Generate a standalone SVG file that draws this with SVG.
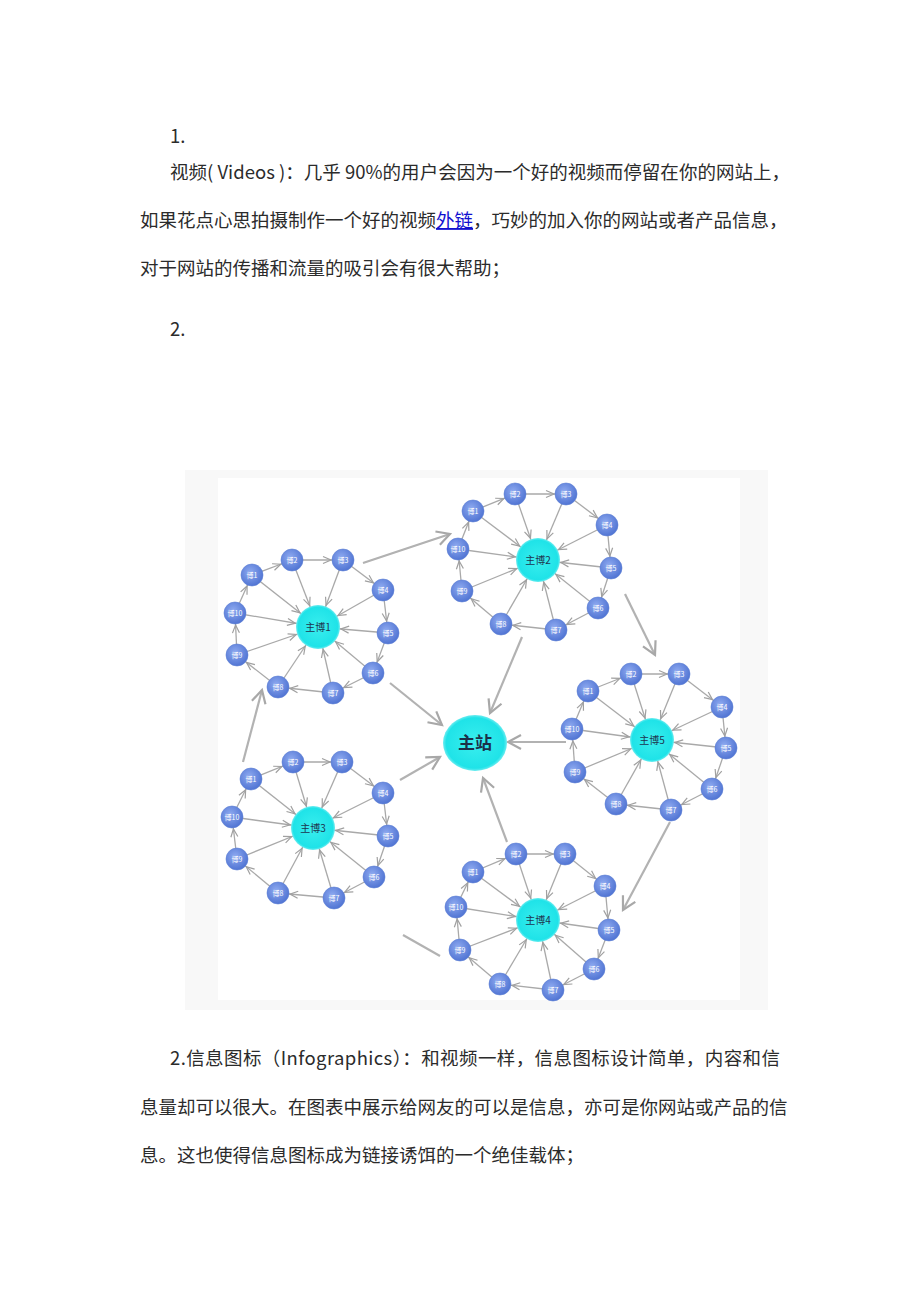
<svg xmlns="http://www.w3.org/2000/svg" width="920" height="1302" viewBox="0 0 920 1302">
<style>
.para{font-family:"Noto Sans CJK SC","Liberation Sans",sans-serif;font-size:18.5px;fill:#2b2b2b}
.link{fill:#1010d0;text-decoration:underline}
.ln{stroke:#a9a9a9;stroke-width:1.3;fill:none}
.sp{marker-end:url(#mSpoke)}
.rg{marker-end:url(#mRing)}
.big{stroke:#b2b2b2;stroke-width:2.2;fill:none;marker-end:url(#mBig)}
.sat circle{fill:url(#gSat);stroke:#5a7dd4;stroke-width:0.6}
.sat text{font-family:"Noto Sans CJK SC",sans-serif;font-size:7px;fill:#ffffff;text-anchor:middle}
.hub circle{fill:url(#gHub)}
.hub text{font-family:"Noto Sans CJK SC",sans-serif;font-size:10px;fill:#1d3550;text-anchor:middle}
</style>
<defs>
<radialGradient id="gSat" cx="0.42" cy="0.38" r="0.65">
<stop offset="0" stop-color="#8eaaf0"/>
<stop offset="1" stop-color="#4e72d2"/>
</radialGradient>
<radialGradient id="gHub" cx="0.5" cy="0.5" r="0.5">
<stop offset="0" stop-color="#3aeeee"/>
<stop offset="0.9" stop-color="#1fe3e8"/>
<stop offset="1" stop-color="#6cecf0"/>
</radialGradient>
<marker id="mSpoke" markerUnits="userSpaceOnUse" markerWidth="40" markerHeight="10" refX="31" refY="4" orient="auto" overflow="visible">
<path d="M0,0.5 L8,4 L0,7.5" fill="none" stroke="#a0a0a0" stroke-width="1.2"/>
</marker>
<marker id="mRing" markerUnits="userSpaceOnUse" markerWidth="30" markerHeight="10" refX="20" refY="4" orient="auto" overflow="visible">
<path d="M0,0.5 L8,4 L0,7.5" fill="none" stroke="#a0a0a0" stroke-width="1.2"/>
</marker>
<marker id="mBig" markerUnits="userSpaceOnUse" markerWidth="16" markerHeight="14" refX="13" refY="7" orient="auto" overflow="visible">
<path d="M0,0 L13,7 L0,14" fill="none" stroke="#a8a8a8" stroke-width="2.2"/>
</marker>
</defs>

<rect x="0" y="0" width="920" height="1302" fill="#ffffff"/>

<g id="text-top">
<text class="para" x="170" y="143">1.</text>
<text class="para" x="170" y="179" textLength="620" lengthAdjust="spacing">视频( Videos )：几乎 90%的用户会因为一个好的视频而停留在你的网站上，</text>
<text class="para" x="140" y="227">如果花点心思拍摄制作一个好的视频<tspan class="link">外链</tspan>，巧妙的加入你的网站或者产品信息，</text>
<text class="para" x="140" y="275">对于网站的传播和流量的吸引会有很大帮助；</text>
<text class="para" x="170" y="336">2.</text>
</g>

<g id="figure-bg">
<rect x="185" y="470" width="583" height="540" fill="#f8f8f8"/>
<rect x="218" y="478" width="522" height="522" fill="#ffffff"/>
</g>

<g id="connectors">
<line class="ln sp" x1="252" y1="575" x2="318" y2="627"/>
<line class="ln sp" x1="292" y1="560" x2="318" y2="627"/>
<line class="ln sp" x1="343" y1="560" x2="318" y2="627"/>
<line class="ln sp" x1="383" y1="590" x2="318" y2="627"/>
<line class="ln sp" x1="388" y1="633" x2="318" y2="627"/>
<line class="ln sp" x1="373" y1="673" x2="318" y2="627"/>
<line class="ln sp" x1="333" y1="693" x2="318" y2="627"/>
<line class="ln sp" x1="278" y1="687" x2="318" y2="627"/>
<line class="ln sp" x1="237" y1="655" x2="318" y2="627"/>
<line class="ln sp" x1="235" y1="613" x2="318" y2="627"/>
<line class="ln rg" x1="252" y1="575" x2="292" y2="560"/>
<line class="ln rg" x1="292" y1="560" x2="343" y2="560"/>
<line class="ln rg" x1="343" y1="560" x2="383" y2="590"/>
<line class="ln rg" x1="383" y1="590" x2="388" y2="633"/>
<line class="ln rg" x1="388" y1="633" x2="373" y2="673"/>
<line class="ln rg" x1="373" y1="673" x2="333" y2="693"/>
<line class="ln rg" x1="333" y1="693" x2="278" y2="687"/>
<line class="ln rg" x1="278" y1="687" x2="237" y2="655"/>
<line class="ln rg" x1="237" y1="655" x2="235" y2="613"/>
<line class="ln rg" x1="235" y1="613" x2="252" y2="575"/>

<line class="ln sp" x1="473" y1="511" x2="538" y2="560"/>
<line class="ln sp" x1="515" y1="494" x2="538" y2="560"/>
<line class="ln sp" x1="566" y1="494" x2="538" y2="560"/>
<line class="ln sp" x1="607" y1="525" x2="538" y2="560"/>
<line class="ln sp" x1="611" y1="568" x2="538" y2="560"/>
<line class="ln sp" x1="598" y1="608" x2="538" y2="560"/>
<line class="ln sp" x1="556" y1="630" x2="538" y2="560"/>
<line class="ln sp" x1="501" y1="624" x2="538" y2="560"/>
<line class="ln sp" x1="462" y1="591" x2="538" y2="560"/>
<line class="ln sp" x1="458" y1="549" x2="538" y2="560"/>
<line class="ln rg" x1="473" y1="511" x2="515" y2="494"/>
<line class="ln rg" x1="515" y1="494" x2="566" y2="494"/>
<line class="ln rg" x1="566" y1="494" x2="607" y2="525"/>
<line class="ln rg" x1="607" y1="525" x2="611" y2="568"/>
<line class="ln rg" x1="611" y1="568" x2="598" y2="608"/>
<line class="ln rg" x1="598" y1="608" x2="556" y2="630"/>
<line class="ln rg" x1="556" y1="630" x2="501" y2="624"/>
<line class="ln rg" x1="501" y1="624" x2="462" y2="591"/>
<line class="ln rg" x1="462" y1="591" x2="458" y2="549"/>
<line class="ln rg" x1="458" y1="549" x2="473" y2="511"/>

<line class="ln sp" x1="251" y1="779" x2="313" y2="828"/>
<line class="ln sp" x1="293" y1="762" x2="313" y2="828"/>
<line class="ln sp" x1="342" y1="762" x2="313" y2="828"/>
<line class="ln sp" x1="383" y1="793" x2="313" y2="828"/>
<line class="ln sp" x1="388" y1="836" x2="313" y2="828"/>
<line class="ln sp" x1="374" y1="877" x2="313" y2="828"/>
<line class="ln sp" x1="334" y1="898" x2="313" y2="828"/>
<line class="ln sp" x1="278" y1="893" x2="313" y2="828"/>
<line class="ln sp" x1="237" y1="859" x2="313" y2="828"/>
<line class="ln sp" x1="232" y1="817" x2="313" y2="828"/>
<line class="ln rg" x1="251" y1="779" x2="293" y2="762"/>
<line class="ln rg" x1="293" y1="762" x2="342" y2="762"/>
<line class="ln rg" x1="342" y1="762" x2="383" y2="793"/>
<line class="ln rg" x1="383" y1="793" x2="388" y2="836"/>
<line class="ln rg" x1="388" y1="836" x2="374" y2="877"/>
<line class="ln rg" x1="374" y1="877" x2="334" y2="898"/>
<line class="ln rg" x1="334" y1="898" x2="278" y2="893"/>
<line class="ln rg" x1="278" y1="893" x2="237" y2="859"/>
<line class="ln rg" x1="237" y1="859" x2="232" y2="817"/>
<line class="ln rg" x1="232" y1="817" x2="251" y2="779"/>

<line class="ln sp" x1="473" y1="872" x2="538" y2="920"/>
<line class="ln sp" x1="516" y1="854" x2="538" y2="920"/>
<line class="ln sp" x1="565" y1="854" x2="538" y2="920"/>
<line class="ln sp" x1="605" y1="886" x2="538" y2="920"/>
<line class="ln sp" x1="609" y1="930" x2="538" y2="920"/>
<line class="ln sp" x1="594" y1="969" x2="538" y2="920"/>
<line class="ln sp" x1="553" y1="990" x2="538" y2="920"/>
<line class="ln sp" x1="500" y1="984" x2="538" y2="920"/>
<line class="ln sp" x1="460" y1="950" x2="538" y2="920"/>
<line class="ln sp" x1="456" y1="907" x2="538" y2="920"/>
<line class="ln rg" x1="473" y1="872" x2="516" y2="854"/>
<line class="ln rg" x1="516" y1="854" x2="565" y2="854"/>
<line class="ln rg" x1="565" y1="854" x2="605" y2="886"/>
<line class="ln rg" x1="605" y1="886" x2="609" y2="930"/>
<line class="ln rg" x1="609" y1="930" x2="594" y2="969"/>
<line class="ln rg" x1="594" y1="969" x2="553" y2="990"/>
<line class="ln rg" x1="553" y1="990" x2="500" y2="984"/>
<line class="ln rg" x1="500" y1="984" x2="460" y2="950"/>
<line class="ln rg" x1="460" y1="950" x2="456" y2="907"/>
<line class="ln rg" x1="456" y1="907" x2="473" y2="872"/>

<line class="ln sp" x1="588" y1="691" x2="652" y2="740"/>
<line class="ln sp" x1="631" y1="674" x2="652" y2="740"/>
<line class="ln sp" x1="679" y1="674" x2="652" y2="740"/>
<line class="ln sp" x1="722" y1="707" x2="652" y2="740"/>
<line class="ln sp" x1="726" y1="748" x2="652" y2="740"/>
<line class="ln sp" x1="712" y1="789" x2="652" y2="740"/>
<line class="ln sp" x1="671" y1="810" x2="652" y2="740"/>
<line class="ln sp" x1="616" y1="804" x2="652" y2="740"/>
<line class="ln sp" x1="575" y1="772" x2="652" y2="740"/>
<line class="ln sp" x1="572" y1="729" x2="652" y2="740"/>
<line class="ln rg" x1="588" y1="691" x2="631" y2="674"/>
<line class="ln rg" x1="631" y1="674" x2="679" y2="674"/>
<line class="ln rg" x1="679" y1="674" x2="722" y2="707"/>
<line class="ln rg" x1="722" y1="707" x2="726" y2="748"/>
<line class="ln rg" x1="726" y1="748" x2="712" y2="789"/>
<line class="ln rg" x1="712" y1="789" x2="671" y2="810"/>
<line class="ln rg" x1="671" y1="810" x2="616" y2="804"/>
<line class="ln rg" x1="616" y1="804" x2="575" y2="772"/>
<line class="ln rg" x1="575" y1="772" x2="572" y2="729"/>
<line class="ln rg" x1="572" y1="729" x2="588" y2="691"/>

<line class="big" x1="363" y1="563" x2="450" y2="534"/>
<line class="big" x1="522" y1="637" x2="490" y2="713"/>
<line class="big" x1="625" y1="594" x2="655" y2="655"/>
<line class="big" x1="566" y1="742" x2="508" y2="742"/>
<line class="big" x1="670" y1="822" x2="623" y2="910"/>
<line class="big" x1="507" y1="842" x2="483" y2="778"/>
<line x1="403" y1="935" x2="440" y2="956" stroke="#b2b2b2" stroke-width="2.2"/>
<line class="big" x1="243" y1="762" x2="262" y2="690"/>
<line class="big" x1="390" y1="683" x2="442" y2="725"/>
<line class="big" x1="400" y1="780" x2="440" y2="757"/>
</g>

<g id="main-site" class="hub">
<ellipse cx="475" cy="743" rx="32" ry="28" fill="url(#gHub)"/>
<text x="475" y="749" style="font-size:17px;font-weight:bold;fill:#1b3048">主站</text>
</g>

<g id="hub1" class="hub"><circle cx="318" cy="627" r="22"/><text x="318" y="631">主博1</text></g>
<g id="hub2" class="hub"><circle cx="538" cy="560" r="22"/><text x="538" y="564">主博2</text></g>
<g id="hub3" class="hub"><circle cx="313" cy="828" r="22"/><text x="313" y="832">主博3</text></g>
<g id="hub4" class="hub"><circle cx="538" cy="920" r="22"/><text x="538" y="924">主博4</text></g>
<g id="hub5" class="hub"><circle cx="652" cy="740" r="22"/><text x="652" y="744">主博5</text></g>

<g id="c1-s1" class="sat"><circle cx="252" cy="575" r="11"/><text x="252" y="577.5">博1</text></g>
<g id="c1-s2" class="sat"><circle cx="292" cy="560" r="11"/><text x="292" y="562.5">博2</text></g>
<g id="c1-s3" class="sat"><circle cx="343" cy="560" r="11"/><text x="343" y="562.5">博3</text></g>
<g id="c1-s4" class="sat"><circle cx="383" cy="590" r="11"/><text x="383" y="592.5">博4</text></g>
<g id="c1-s5" class="sat"><circle cx="388" cy="633" r="11"/><text x="388" y="635.5">博5</text></g>
<g id="c1-s6" class="sat"><circle cx="373" cy="673" r="11"/><text x="373" y="675.5">博6</text></g>
<g id="c1-s7" class="sat"><circle cx="333" cy="693" r="11"/><text x="333" y="695.5">博7</text></g>
<g id="c1-s8" class="sat"><circle cx="278" cy="687" r="11"/><text x="278" y="689.5">博8</text></g>
<g id="c1-s9" class="sat"><circle cx="237" cy="655" r="11"/><text x="237" y="657.5">博9</text></g>
<g id="c1-s10" class="sat"><circle cx="235" cy="613" r="11"/><text x="235" y="615.5">博10</text></g>

<g id="c2-s1" class="sat"><circle cx="473" cy="511" r="11"/><text x="473" y="513.5">博1</text></g>
<g id="c2-s2" class="sat"><circle cx="515" cy="494" r="11"/><text x="515" y="496.5">博2</text></g>
<g id="c2-s3" class="sat"><circle cx="566" cy="494" r="11"/><text x="566" y="496.5">博3</text></g>
<g id="c2-s4" class="sat"><circle cx="607" cy="525" r="11"/><text x="607" y="527.5">博4</text></g>
<g id="c2-s5" class="sat"><circle cx="611" cy="568" r="11"/><text x="611" y="570.5">博5</text></g>
<g id="c2-s6" class="sat"><circle cx="598" cy="608" r="11"/><text x="598" y="610.5">博6</text></g>
<g id="c2-s7" class="sat"><circle cx="556" cy="630" r="11"/><text x="556" y="632.5">博7</text></g>
<g id="c2-s8" class="sat"><circle cx="501" cy="624" r="11"/><text x="501" y="626.5">博8</text></g>
<g id="c2-s9" class="sat"><circle cx="462" cy="591" r="11"/><text x="462" y="593.5">博9</text></g>
<g id="c2-s10" class="sat"><circle cx="458" cy="549" r="11"/><text x="458" y="551.5">博10</text></g>

<g id="c3-s1" class="sat"><circle cx="251" cy="779" r="11"/><text x="251" y="781.5">博1</text></g>
<g id="c3-s2" class="sat"><circle cx="293" cy="762" r="11"/><text x="293" y="764.5">博2</text></g>
<g id="c3-s3" class="sat"><circle cx="342" cy="762" r="11"/><text x="342" y="764.5">博3</text></g>
<g id="c3-s4" class="sat"><circle cx="383" cy="793" r="11"/><text x="383" y="795.5">博4</text></g>
<g id="c3-s5" class="sat"><circle cx="388" cy="836" r="11"/><text x="388" y="838.5">博5</text></g>
<g id="c3-s6" class="sat"><circle cx="374" cy="877" r="11"/><text x="374" y="879.5">博6</text></g>
<g id="c3-s7" class="sat"><circle cx="334" cy="898" r="11"/><text x="334" y="900.5">博7</text></g>
<g id="c3-s8" class="sat"><circle cx="278" cy="893" r="11"/><text x="278" y="895.5">博8</text></g>
<g id="c3-s9" class="sat"><circle cx="237" cy="859" r="11"/><text x="237" y="861.5">博9</text></g>
<g id="c3-s10" class="sat"><circle cx="232" cy="817" r="11"/><text x="232" y="819.5">博10</text></g>

<g id="c4-s1" class="sat"><circle cx="473" cy="872" r="11"/><text x="473" y="874.5">博1</text></g>
<g id="c4-s2" class="sat"><circle cx="516" cy="854" r="11"/><text x="516" y="856.5">博2</text></g>
<g id="c4-s3" class="sat"><circle cx="565" cy="854" r="11"/><text x="565" y="856.5">博3</text></g>
<g id="c4-s4" class="sat"><circle cx="605" cy="886" r="11"/><text x="605" y="888.5">博4</text></g>
<g id="c4-s5" class="sat"><circle cx="609" cy="930" r="11"/><text x="609" y="932.5">博5</text></g>
<g id="c4-s6" class="sat"><circle cx="594" cy="969" r="11"/><text x="594" y="971.5">博6</text></g>
<g id="c4-s7" class="sat"><circle cx="553" cy="990" r="11"/><text x="553" y="992.5">博7</text></g>
<g id="c4-s8" class="sat"><circle cx="500" cy="984" r="11"/><text x="500" y="986.5">博8</text></g>
<g id="c4-s9" class="sat"><circle cx="460" cy="950" r="11"/><text x="460" y="952.5">博9</text></g>
<g id="c4-s10" class="sat"><circle cx="456" cy="907" r="11"/><text x="456" y="909.5">博10</text></g>

<g id="c5-s1" class="sat"><circle cx="588" cy="691" r="11"/><text x="588" y="693.5">博1</text></g>
<g id="c5-s2" class="sat"><circle cx="631" cy="674" r="11"/><text x="631" y="676.5">博2</text></g>
<g id="c5-s3" class="sat"><circle cx="679" cy="674" r="11"/><text x="679" y="676.5">博3</text></g>
<g id="c5-s4" class="sat"><circle cx="722" cy="707" r="11"/><text x="722" y="709.5">博4</text></g>
<g id="c5-s5" class="sat"><circle cx="726" cy="748" r="11"/><text x="726" y="750.5">博5</text></g>
<g id="c5-s6" class="sat"><circle cx="712" cy="789" r="11"/><text x="712" y="791.5">博6</text></g>
<g id="c5-s7" class="sat"><circle cx="671" cy="810" r="11"/><text x="671" y="812.5">博7</text></g>
<g id="c5-s8" class="sat"><circle cx="616" cy="804" r="11"/><text x="616" y="806.5">博8</text></g>
<g id="c5-s9" class="sat"><circle cx="575" cy="772" r="11"/><text x="575" y="774.5">博9</text></g>
<g id="c5-s10" class="sat"><circle cx="572" cy="729" r="11"/><text x="572" y="731.5">博10</text></g>

<g id="text-bottom">
<text class="para" x="170" y="1065" textLength="610" lengthAdjust="spacing">2.信息图标（Infographics）：和视频一样，信息图标设计简单，内容和信</text>
<text class="para" x="140" y="1114">息量却可以很大。在图表中展示给网友的可以是信息，亦可是你网站或产品的信</text>
<text class="para" x="140" y="1162">息。这也使得信息图标成为链接诱饵的一个绝佳载体；</text>
</g>
</svg>
